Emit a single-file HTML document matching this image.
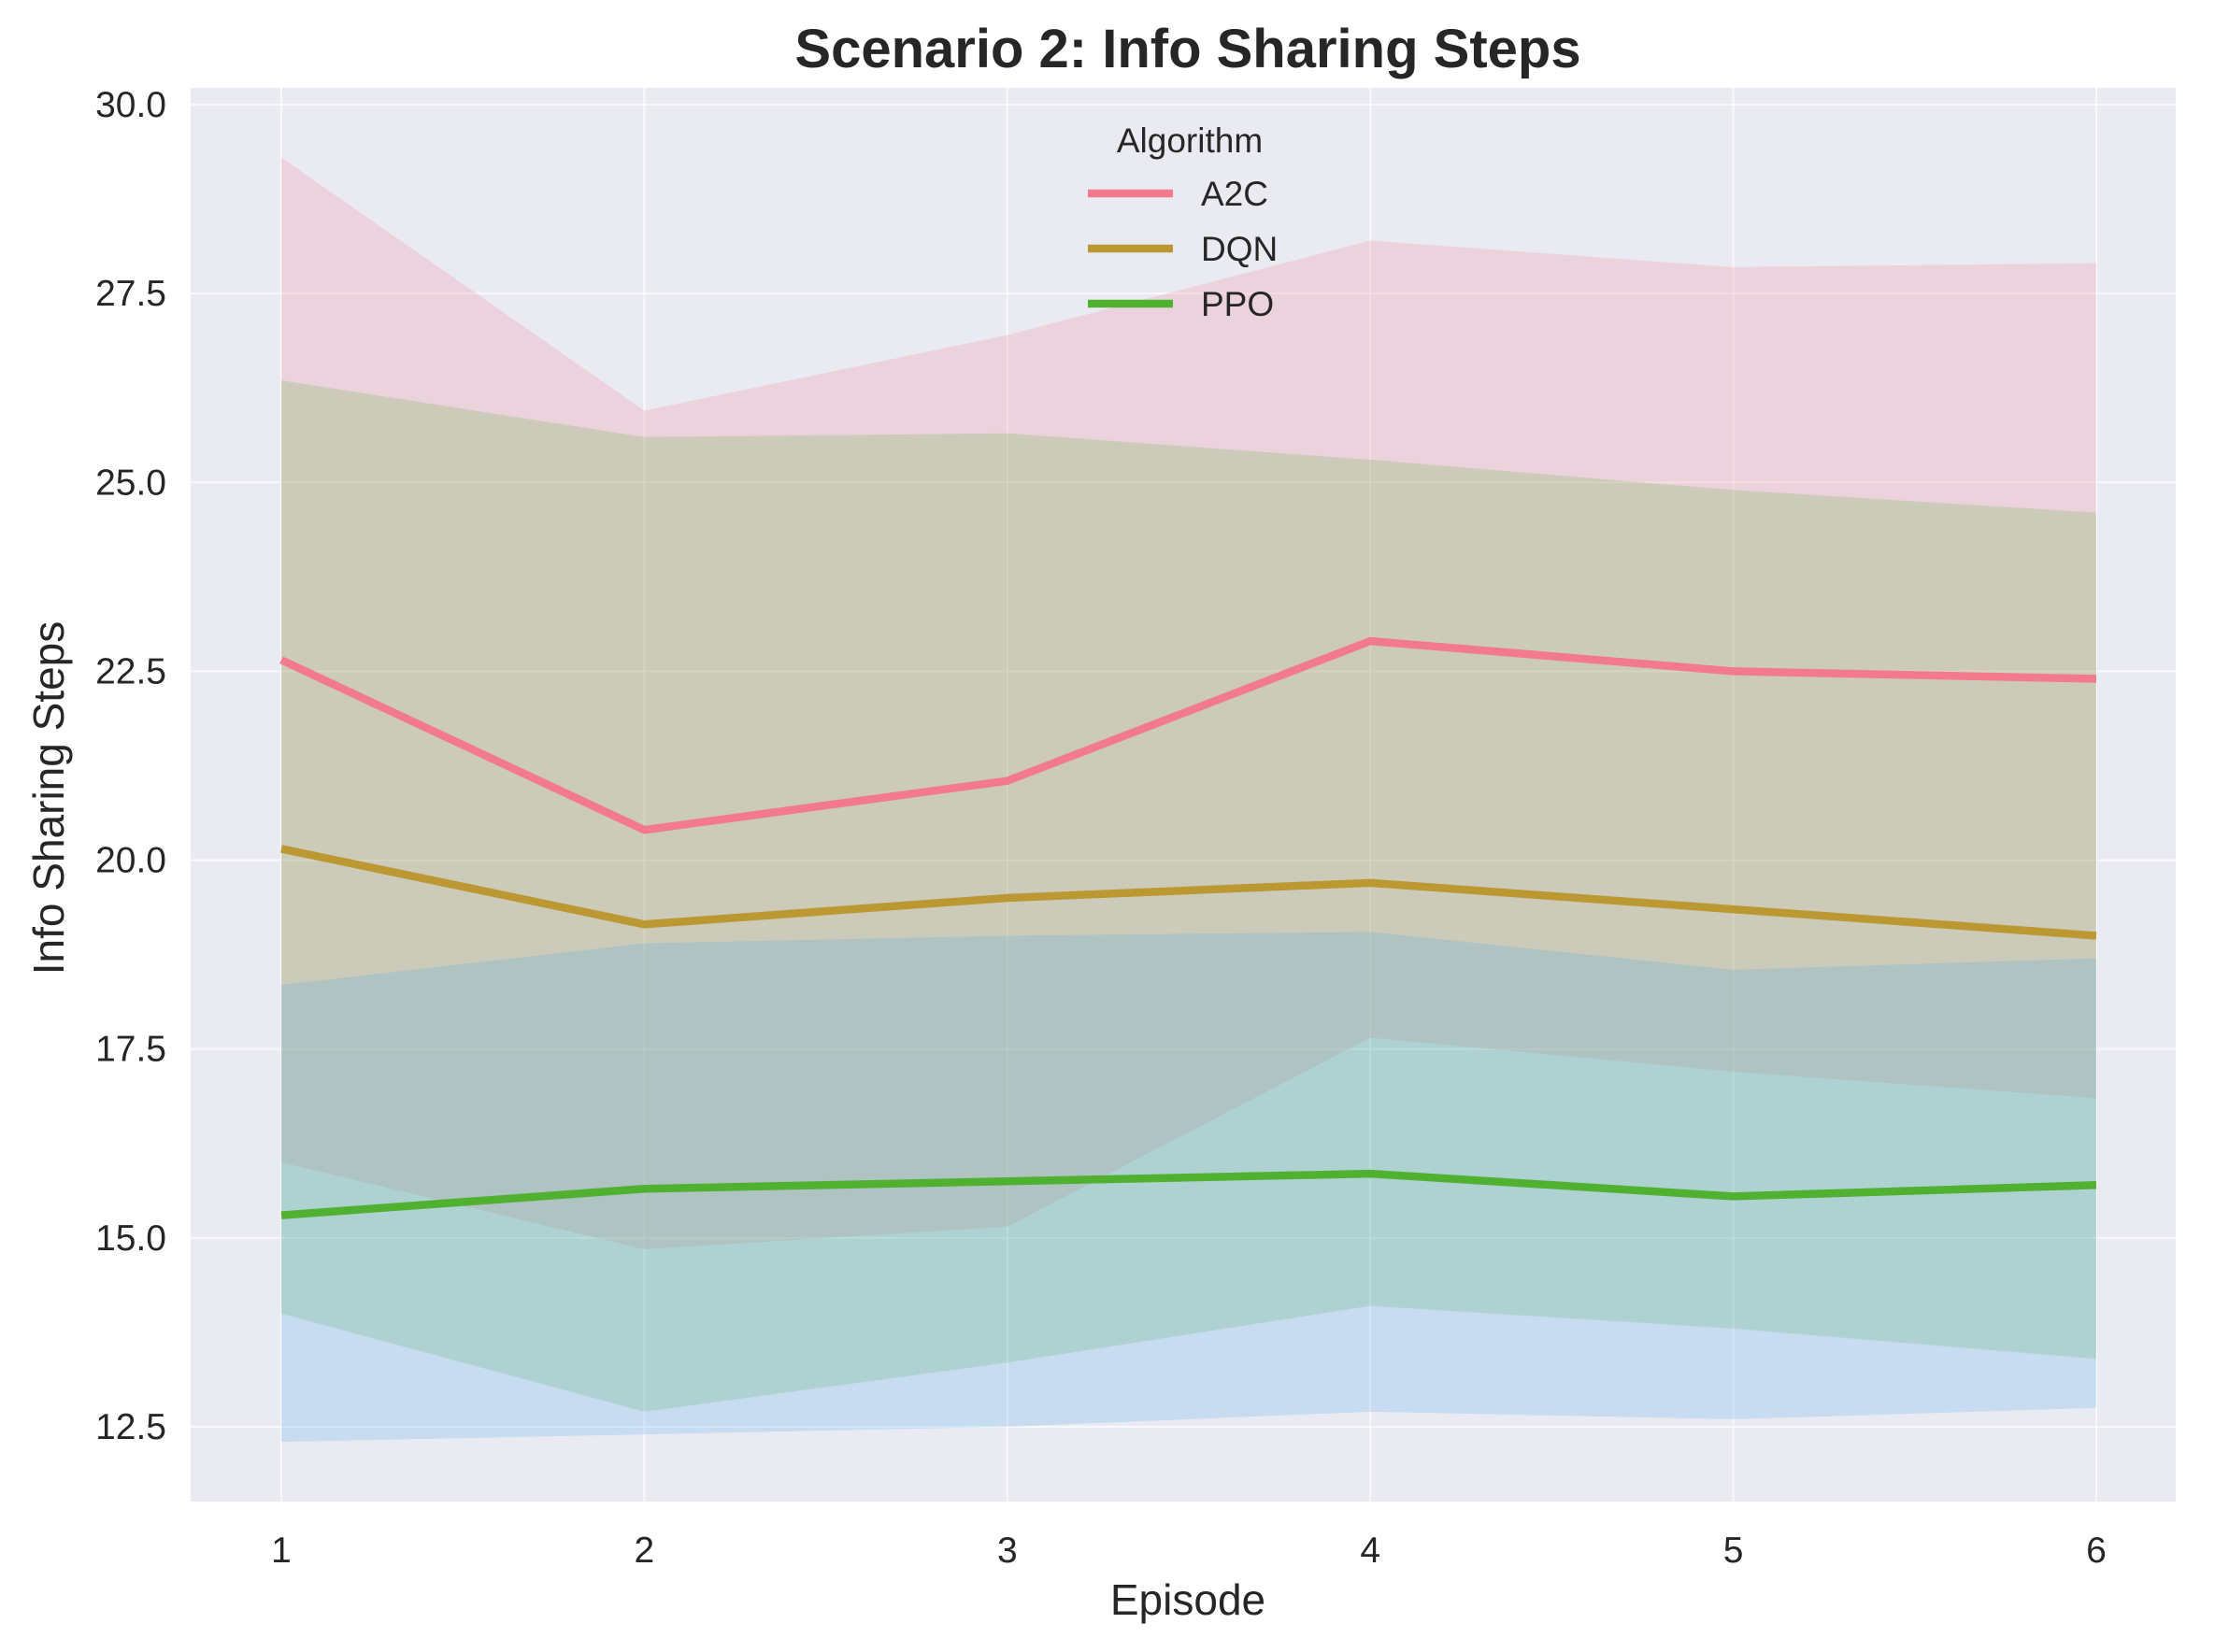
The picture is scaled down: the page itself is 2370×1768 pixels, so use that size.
<!DOCTYPE html>
<html><head><meta charset="utf-8"><style>
body{margin:0;background:#fff;}
svg{display:block;font-family:"Liberation Sans",Arial,sans-serif;}
</style></head><body>
<svg id="c" width="2370" height="1768" viewBox="0 0 2370 1768" xmlns="http://www.w3.org/2000/svg">
<rect x="0" y="0" width="2370" height="1768" fill="#ffffff"/>
<rect x="204" y="94" width="2124" height="1513" fill="#eaeaf2"/>
<g id="grid"></g><g id="bands"></g><g id="lines"></g><g id="ticks"></g>
<text x="1271" y="72" text-anchor="middle" font-size="58" font-weight="bold" fill="#262626">Scenario 2: Info Sharing Steps</text>
<text x="1271" y="1728" text-anchor="middle" font-size="46" fill="#262626">Episode</text>
<text transform="translate(68,854) rotate(-90)" text-anchor="middle" font-size="46" fill="#262626">Info Sharing Steps</text>
<g id="legend"></g>
</svg>
<script>
const episodes=[1,2,3,4,5,6];
const a2cMean=[22.65,20.4,21.05,22.9,22.5,22.4];
const a2cUpper=[29.3,25.95,26.95,28.2,27.85,27.9];
const a2cLower=[16.0,14.85,15.15,17.65,17.2,16.85];
const dqnMean=[20.15,19.15,19.5,19.7,19.35,19.0];
const dqnUpper=[26.35,25.6,25.65,25.3,24.9,24.6];
const dqnLower=[14.0,12.7,13.35,14.1,13.8,13.4];
const ppoMean=[15.3,15.65,15.75,15.85,15.55,15.7];
const ppoUpper=[18.35,18.9,19.0,19.05,18.55,18.7];
const ppoLower=[12.3,12.4,12.5,12.7,12.6,12.75];
const yTicks=[12.5,15.0,17.5,20.0,22.5,25.0,27.5,30.0];
const xTicks=[1,2,3,4,5,6];
const NS="http://www.w3.org/2000/svg";
const X=v=>301+(v-1)*(2243-301)/5;
const Y=v=>112+(30-v)*(1527-112)/17.5;
function mk(tag,parent,attrs){const e=document.createElementNS(NS,tag);for(const k in attrs)e.setAttribute(k,attrs[k]);document.getElementById(parent).appendChild(e);return e;}
yTicks.forEach(t=>{const l=mk('line','grid',{x1:204,x2:2328,y1:Y(t),y2:Y(t),stroke:'#fff','stroke-width':2,'stroke-opacity':0.7});


const tx=mk('text','ticks',{x:178,y:Y(t)+13,'text-anchor':'end','font-size':39,fill:'#262626'});tx.textContent=t.toFixed(1);

});
xTicks.forEach(t=>{const l=mk('line','grid',{x1:X(t),x2:X(t),y1:94,y2:1607,stroke:'#fff','stroke-width':2,'stroke-opacity':0.7});


const tx=mk('text','ticks',{x:X(t),y:1672,'text-anchor':'middle','font-size':39,fill:'#262626'});tx.textContent=t;

});
function band(up,lo,color,name){let d=episodes.map((e,i)=>(i?'L':'M')+X(e)+','+Y(up[i])).join('');
for(let i=episodes.length-1;i>=0;i--)d+='L'+X(episodes[i])+','+Y(lo[i]);d+='Z';
const p=mk('path','bands',{d:d,fill:color,'fill-opacity':0.2});

}
band(a2cUpper,a2cLower,'#f77189','a2c-band');
band(dqnUpper,dqnLower,'#50b131','dqn-band');
band(ppoUpper,ppoLower,'#3ba3ec','ppo-band');
function line(m,color,name){const d=episodes.map((e,i)=>(i?'L':'M')+X(e)+','+Y(m[i])).join('');
const p=mk('path','lines',{d:d,fill:'none',stroke:color,'stroke-width':8.5,'stroke-linejoin':'round'});

}
line(a2cMean,'#f37a8d','a2c-line');
line(dqnMean,'#bb9832','dqn-line');
line(ppoMean,'#50b131','ppo-line');
const lt=mk('text','legend',{x:1273,y:163,'text-anchor':'middle','font-size':37,fill:'#262626'});lt.textContent='Algorithm';


[['A2C','#f37a8d',207],['DQN','#bb9832',266],['PPO','#50b131',325]].forEach(([n,c,y])=>{
const l=mk('line','legend',{x1:1164,x2:1255,y1:y,y2:y,stroke:c,'stroke-width':8.5});


const t=mk('text','legend',{x:1285,y:y+13,'font-size':37,fill:'#262626'});t.textContent=n;

});
</script>
</body></html>
